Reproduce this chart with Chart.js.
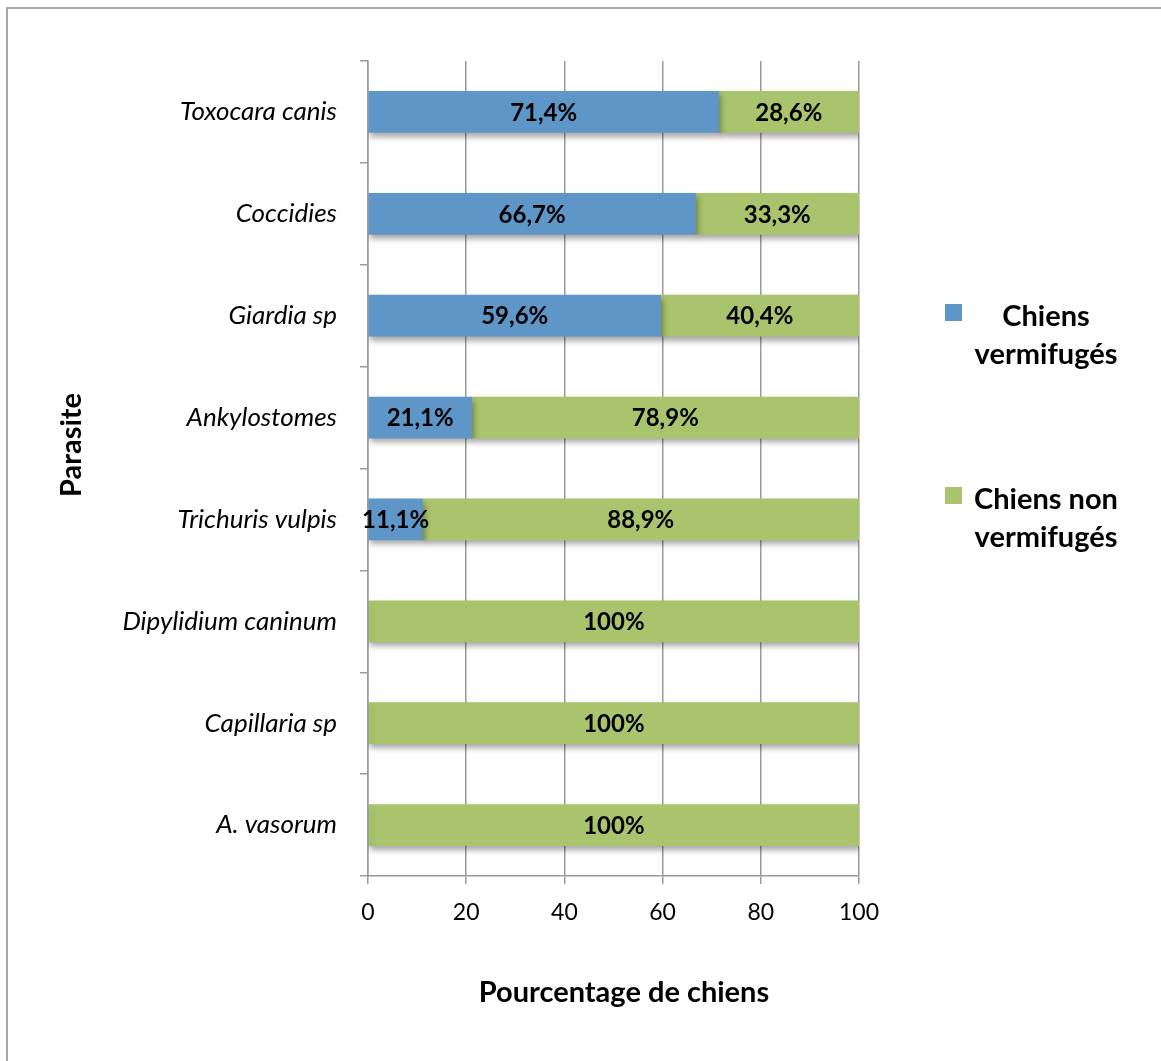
<!DOCTYPE html>
<html>
<head>
<meta charset="utf-8">
<script src="https://cdn.jsdelivr.net/npm/chart.js@4.4.1/dist/chart.umd.min.js"></script>
<style>
  body { margin: 0; background: #fff; }
  #wrap { position: relative; width: 1161px; height: 1061px; overflow: hidden; }
  #frame {
    position: absolute; left: 6px; top: 7px; width: 1200px; height: 1100px;
    border-left: 2px solid #a8a8a8; border-top: 2px solid #a8a8a8;
  }
  canvas { position: absolute; left: 0; top: 0; }
</style>
</head>
<body>
<div id="wrap">
  <div id="frame"></div>
  <canvas id="chart" width="1161" height="1061"></canvas>
</div>
<script>
const parasites = ['Toxocara canis', 'Coccidies', 'Giardia sp', 'Ankylostomes',
  'Trichuris vulpis', 'Dipylidium caninum', 'Capillaria sp', 'A. vasorum'];
const vermifuges = [71.4, 66.7, 59.6, 21.1, 11.1, 0, 0, 0];
const nonVermifuges = [28.6, 33.3, 40.4, 78.9, 88.9, 100, 100, 100];
const xTicks = [0, 20, 40, 60, 80, 100];
const seriesNames = ['Chiens vermifugés', 'Chiens non vermifugés'];
const seriesColors = ['#5f96c8', '#a9c46c'];

const FONT = 'Lato, "Open Sans", sans-serif';

const fmtPct = (v) => (v % 1 === 0 ? v + '%' : v.toFixed(1).replace('.', ',') + '%');

// soft drop shadow under the bars, like the office chart style
const barShadow = {
  id: 'barShadow',
  beforeDatasetsDraw(chart) {
    const ctx = chart.ctx;
    ctx.save();
    ctx.shadowColor = 'rgba(0,0,0,0.35)';
    ctx.shadowBlur = 6;
    ctx.shadowOffsetX = 2;
    ctx.shadowOffsetY = 4;
  },
  afterDatasetsDraw(chart) {
    chart.ctx.restore();
  }
};

// percentages written in the middle of each segment
const segmentLabels = {
  id: 'segmentLabels',
  afterDatasetsDraw(chart) {
    const ctx = chart.ctx;
    ctx.save();
    ctx.font = 'bold 24px ' + FONT;
    ctx.fillStyle = '#000';
    ctx.textAlign = 'center';
    ctx.textBaseline = 'middle';
    chart.data.datasets.forEach((ds, i) => {
      chart.getDatasetMeta(i).data.forEach((bar, j) => {
        const v = ds.data[j];
        if (!v) return;
        ctx.fillText(fmtPct(v), (bar.base + bar.x) / 2, bar.y + 1);
      });
    });
    ctx.restore();
  }
};

// axis titles and the legend on the right
const extras = {
  id: 'extras',
  afterDraw(chart) {
    const ctx = chart.ctx;
    ctx.save();
    ctx.fillStyle = '#000';
    ctx.font = 'bold 29px ' + FONT;
    ctx.textAlign = 'center';
    ctx.textBaseline = 'middle';
    ctx.fillText('Pourcentage de chiens', 624, 993);

    ctx.save();
    ctx.translate(72, 445);
    ctx.rotate(-Math.PI / 2);
    ctx.fillText('Parasite', 0, 0);
    ctx.restore();

    const legendY = [313, 496];
    chart.data.datasets.forEach((ds, i) => {
      ctx.fillStyle = ds.backgroundColor;
      ctx.fillRect(945, legendY[i] - 9, 17, 17);
      ctx.fillStyle = '#000';
      const words = ds.label.split(' ');
      const lines = [];
      let line = '';
      words.forEach((w) => {
        const test = line ? line + ' ' + w : w;
        if (line && ctx.measureText(test).width > 175) {
          lines.push(line);
          line = w;
        } else {
          line = test;
        }
      });
      lines.push(line);
      lines.forEach((l, k) => ctx.fillText(l, 1046, legendY[i] + 4 + k * 38));
    });
    ctx.restore();
  }
};

new Chart(document.getElementById('chart'), {
  type: 'bar',
  data: {
    labels: parasites,
    datasets: [
      { label: seriesNames[0], data: vermifuges, backgroundColor: seriesColors[0] },
      { label: seriesNames[1], data: nonVermifuges, backgroundColor: seriesColors[1] }
    ]
  },
  options: {
    indexAxis: 'y',
    responsive: false,
    animation: false,
    layout: { padding: { top: 61, right: 302, left: 0, bottom: 0 } },
    datasets: { bar: { barThickness: 41, borderWidth: 0 } },
    plugins: {
      legend: { display: false },
      tooltip: { enabled: false }
    },
    scales: {
      x: {
        stacked: true,
        min: 0,
        max: 100,
        afterBuildTicks: (scale) => { scale.ticks = xTicks.map((v) => ({ value: v })); },
        afterFit: (scale) => { scale.height = 185; },
        grid: { color: '#9a9a9a', lineWidth: 1.5, tickLength: 8 },
        border: { color: '#9a9a9a', width: 1.5 },
        ticks: { color: '#000', font: { family: FONT, size: 23 }, padding: 15 }
      },
      y: {
        stacked: true,
        afterFit: (scale) => { scale.width = 368; },
        grid: { offset: true, drawOnChartArea: false, color: '#9a9a9a', lineWidth: 1.5, tickLength: 8 },
        border: { color: '#9a9a9a', width: 1.5 },
        ticks: { color: '#000', font: { family: FONT, size: 26, style: 'italic' }, padding: 23 }
      }
    }
  },
  plugins: [barShadow, segmentLabels, extras]
});
</script>
</body>
</html>
